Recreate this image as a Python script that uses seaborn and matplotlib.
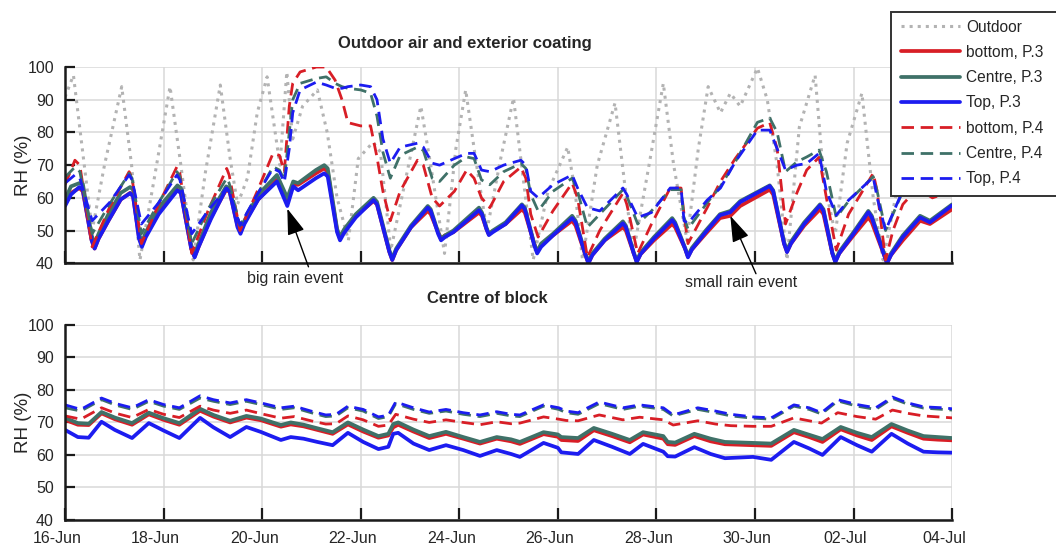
import numpy as np
import pandas as pd
import seaborn as sns
import matplotlib.pyplot as plt
import matplotlib.dates as mdates
import matplotlib.transforms as mtransforms
from matplotlib.patches import Rectangle

# Donnees (temps en jours depuis le 16-Jun, HR en %)
T0 = pd.Timestamp('2015-06-16')

# --- Panneau haut : air exterieur et enduit exterieur ---
out_t = [0.00, 0.17, 0.35, 0.55, 0.80, 1.15, 1.35, 1.52, 1.80, 2.13, 2.35, 2.60, 2.85, 3.15,
         3.35, 3.50, 3.70, 3.90, 4.10, 4.36, 4.50, 4.62, 4.82, 5.12, 5.32, 5.52, 5.75, 5.95,
         6.25, 6.40, 6.61, 6.86, 7.22, 7.42, 7.70, 7.93, 8.13, 8.33, 8.56, 8.84, 9.10, 9.28,
         9.50, 9.80, 10.20, 10.35, 10.50, 10.80, 11.16, 11.35, 11.53, 11.85, 12.14, 12.35,
         12.62, 12.85, 13.05, 13.30, 13.50, 13.70, 14.05, 14.25, 14.45, 14.65, 14.90, 15.22,
         15.40, 15.63, 15.87, 16.17, 16.40, 16.60, 16.85, 17.15, 17.40, 17.60, 18.00]
outdoor = [90.8, 97.5, 75, 50, 70, 94, 70, 41, 65, 94, 70, 41, 68, 94.5,
           72, 58, 66, 86, 97, 70, 98.5, 78, 88, 93, 80, 60, 47, 72,
           77, 74, 44, 62, 88, 70, 43, 75, 93, 72, 50, 72, 90.5, 68,
           41, 62, 75.5, 62, 41, 70, 89, 65, 43, 70, 95, 70,
           47, 75, 94, 86, 92, 88, 99.7, 90, 70, 41, 81.6, 97.5,
           65, 49, 76.7, 92, 60, 41, 60, 88, 72, 62, 62]

top_p3_t = [0.00, 0.12, 0.29, 0.36, 0.60, 0.88, 1.13, 1.32, 1.38, 1.56, 1.90, 2.28, 2.35, 2.63,
            2.96, 3.27, 3.34, 3.56, 3.92, 4.30, 4.51, 4.63, 4.73, 5.09, 5.26, 5.33, 5.58, 5.90,
            6.26, 6.33, 6.64, 7.02, 7.36, 7.42, 7.63, 7.88, 8.40, 8.46, 8.60, 8.94, 9.27, 9.33,
            9.58, 9.90, 10.29, 10.36, 10.62, 10.95, 11.32, 11.38, 11.60, 11.95, 12.32, 12.38,
            12.64, 13.00, 13.29, 13.50, 13.70, 14.30, 14.37, 14.65, 15.00, 15.32, 15.39, 15.63,
            16.00, 16.30, 16.37, 16.68, 17.00, 17.35, 17.55, 18.00]
top_bottom_p3 = [58.0, 61.5, 63.0, 62.0, 44.5, 53.0, 59.5, 61.5, 60.5, 45.5, 55.5, 62.5, 61.5, 42.0,
                 54.0, 62.5, 61.8, 49.5, 59.5, 65.5, 59.0, 64.0, 64.0, 67.5, 69.0, 68.0, 47.5, 54.5,
                 59.0, 58.0, 41.0, 51.0, 56.0, 55.0, 47.5, 49.5, 55.5, 54.5, 48.8, 52.0, 56.5, 55.5,
                 43.5, 48.5, 53.0, 51.5, 40.0, 47.0, 51.0, 50.0, 40.5, 47.0, 52.0, 51.0,
                 42.0, 49.0, 53.8, 54.5, 57.5, 62.5, 61.0, 43.5, 51.5, 56.5, 55.0, 40.5,
                 48.5, 54.0, 52.5, 40.0, 47.0, 53.0, 52.0, 56.5]
top_centre_p3 = [59.5, 63.5, 64.5, 64.3, 46.0, 55.0, 61.5, 63.3, 62.5, 46.5, 57.0, 63.8, 63.0, 43.0,
                 55.5, 63.5, 62.8, 50.0, 61.0, 67.0, 60.0, 65.0, 64.5, 68.5, 70.0, 69.0, 48.0, 55.0,
                 60.0, 58.8, 41.5, 51.5, 57.5, 56.5, 47.5, 50.0, 57.0, 55.5, 49.0, 52.5, 58.0, 57.0,
                 43.5, 49.0, 54.5, 53.0, 40.5, 47.5, 52.8, 51.5, 40.8, 48.0, 53.8, 52.5,
                 42.3, 50.0, 55.0, 56.0, 59.0, 63.8, 62.3, 44.0, 52.5, 58.0, 56.5, 40.8,
                 49.5, 56.0, 54.5, 40.5, 48.5, 54.5, 53.0, 58.0]
top_top_p3 = [57.5, 61.0, 63.3, 62.5, 44.5, 53.0, 59.5, 61.4, 60.5, 45.0, 55.0, 62.3, 61.5, 41.8,
              53.5, 62.8, 62.0, 49.0, 59.5, 65.0, 57.5, 63.5, 62.3, 66.0, 67.5, 66.5, 47.0, 54.0,
              59.3, 58.0, 41.0, 51.0, 57.0, 56.0, 47.0, 49.5, 56.2, 55.0, 48.6, 52.0, 57.7, 56.5,
              43.0, 48.5, 53.8, 52.5, 40.0, 47.0, 52.2, 51.0, 40.3, 47.5, 53.2, 52.0,
              41.8, 49.5, 54.7, 55.6, 58.7, 63.6, 62.0, 43.4, 52.0, 57.7, 56.0, 40.3,
              49.0, 55.6, 54.0, 40.0, 48.0, 54.0, 52.5, 57.7]

# points autour des creux (arrondi des minima), avant puis apres chaque creux
creux_t = [0.54, 1.50, 2.56, 3.50, 5.52, 6.58, 7.57, 8.55, 9.52, 10.56, 11.54, 12.58, 14.59,
           15.57, 16.62,
           0.68, 1.64, 2.71, 3.64, 5.66, 6.72, 7.71, 8.68, 9.66, 10.70, 11.68, 12.72, 14.73,
           15.71, 16.76]
creux_bottom_p3 = [47.0, 48.0, 44.5, 51.5, 50.0, 43.5, 49.5, 50.5, 46.0, 42.5, 43.0, 44.5, 46.0,
                   43.0, 42.5,
                   47.5, 48.5, 45.0, 52.5, 49.8, 44.0, 48.5, 49.8, 45.5, 42.5, 42.8, 44.2, 46.0,
                   43.0, 42.5]
creux_centre_p3 = [48.5, 49.0, 45.5, 52.5, 50.5, 44.0, 49.5, 51.0, 46.0, 43.0, 43.3, 44.8, 46.5,
                   43.3, 43.0,
                   49.0, 49.5, 46.0, 53.0, 50.3, 44.5, 48.5, 50.0, 46.0, 43.0, 43.3, 44.7, 46.6,
                   43.5, 43.0]
creux_top_p3 = [47.0, 47.5, 44.5, 51.0, 49.5, 43.5, 49.0, 50.5, 45.5, 42.5, 43.0, 44.5, 46.0,
                43.0, 42.5,
                47.5, 48.0, 45.0, 52.0, 49.2, 44.0, 48.0, 49.5, 45.0, 42.5, 42.8, 44.2, 46.0,
                43.0, 42.5]

top_p4_t = [0.00, 0.20, 0.30, 0.55, 0.90, 1.30, 1.36, 1.55, 1.90, 2.27, 2.33, 2.57, 2.90, 3.28,
            3.33, 3.55, 3.90, 4.22, 4.35, 4.45, 4.55, 4.62, 4.77, 5.10, 5.30, 5.48, 5.62, 5.74,
            6.00, 6.20, 6.33, 6.45, 6.60, 6.80, 7.15, 7.27, 7.45, 7.60, 7.90, 8.15, 8.30, 8.45,
            8.62, 8.90, 9.25, 9.35, 9.45, 9.60, 9.90, 10.29, 10.40, 10.60, 10.85, 11.32, 11.40,
            11.62, 11.90, 12.28, 12.50, 12.56, 12.64, 13.03, 13.30, 13.60, 14.05, 14.30, 14.45,
            14.62, 14.85, 15.05, 15.30, 15.45, 15.65, 15.90, 16.40, 16.48, 16.65, 16.80, 17.00,
            17.30, 17.60, 18.00]
top_bottom_p4 = [64.0, 71.5, 70.0, 45.0, 57.0, 68.0, 66.0, 46.0, 58.0, 69.5, 67.5, 43.0, 56.0, 69.0,
                 67.0, 50.0, 62.0, 73.6, 73.0, 68.0, 88.0, 95.0, 98.5, 100.0, 100.0, 96.0, 90.0, 83.0,
                 82.0, 82.0, 72.4, 62.0, 53.0, 62.0, 71.5, 70.0, 60.0, 57.5, 62.0, 68.5, 66.0, 60.0,
                 57.0, 65.0, 69.4, 66.0, 55.0, 48.0, 56.0, 64.5, 60.0, 41.8, 50.0, 61.4, 58.0,
                 43.0, 52.0, 63.0, 63.0, 55.0, 46.0, 57.0, 65.0, 72.0, 81.3, 83.0, 75.0,
                 52.0, 61.5, 68.5, 72.4, 60.0, 44.0, 55.0, 67.5, 62.0, 41.0, 50.0, 58.0,
                 63.0, 60.0, 62.0]
top_centre_p4 = [66.3, 69.4, 68.0, 49.0, 58.0, 67.5, 66.0, 49.0, 58.5, 68.0, 66.5, 46.0, 56.5, 66.0,
                 64.5, 51.5, 61.0, 69.5, 68.5, 65.5, 80.0, 90.0, 95.0, 96.5, 97.0, 95.0, 94.0, 93.5,
                 93.0, 92.0, 85.0, 74.0, 66.0, 73.0, 75.5, 74.5, 66.0, 65.0, 70.0, 72.5, 72.0, 65.5,
                 64.0, 68.0, 70.5, 69.0, 61.0, 56.0, 62.0, 66.0, 62.0, 51.0, 55.0, 62.5, 60.5,
                 52.0, 56.0, 62.5, 62.5, 54.0, 50.5, 58.5, 63.5, 71.0, 83.1, 84.4, 80.0,
                 68.0, 71.0, 72.5, 74.6, 68.0, 54.0, 59.0, 66.5, 62.0, 50.0, 55.0, 62.0,
                 66.0, 62.0, 63.0]
top_top_p4 = [64.5, 67.0, 66.0, 53.0, 58.5, 67.0, 65.5, 52.0, 58.5, 67.0, 65.5, 49.0, 56.0, 63.0,
              62.0, 51.6, 61.0, 69.0, 68.0, 64.8, 75.0, 86.0, 93.0, 95.4, 94.5, 93.5, 93.5, 94.0,
              94.5, 94.0, 90.0, 78.0, 70.6, 75.5, 76.7, 75.5, 70.6, 70.0, 72.0, 73.6, 73.6, 68.5,
              68.0, 70.0, 71.5, 70.0, 62.0, 60.0, 64.0, 67.0, 63.0, 57.0, 56.0, 63.0, 61.0,
              54.0, 55.5, 63.0, 63.0, 53.0, 52.2, 59.3, 63.0, 71.0, 80.7, 80.7, 75.0,
              68.5, 70.0, 70.5, 73.6, 62.0, 54.7, 59.3, 66.3, 60.0, 50.0, 55.3, 62.3,
              66.0, 62.0, 63.0]

# --- Panneau bas : centre du bloc ---
bot_p3_t = [0.00, 0.26, 0.48, 0.74, 1.01, 1.36, 1.70, 2.00, 2.32, 2.74, 3.01, 3.35, 3.68, 3.97,
            4.38, 4.58, 4.84, 5.12, 5.43, 5.74, 6.05, 6.36, 6.56, 6.66, 6.76, 7.07, 7.39, 7.73,
            8.08, 8.42, 8.76, 9.05, 9.23, 9.71, 10.00, 10.07, 10.41, 10.73, 11.10, 11.46, 11.73,
            12.14, 12.23, 12.38, 12.77, 13.10, 13.39, 13.96, 14.33, 14.79, 15.10, 15.37, 15.74,
            16.07, 16.37, 16.77, 17.10, 17.42, 17.71, 18.00]
bot_bottom_p3 = [70.8, 69.3, 69.2, 72.8, 71.0, 69.3, 72.5, 70.8, 69.3, 73.6, 71.8, 70.0, 71.5, 70.7,
                 68.7, 69.4, 68.8, 67.7, 66.5, 69.4, 67.2, 65.3, 66.0, 68.5, 69.3, 67.2, 65.2, 66.5,
                 65.0, 63.5, 65.0, 64.2, 63.4, 66.4, 65.6, 64.6, 64.3, 67.6, 65.8, 63.9, 66.3,
                 65.0, 63.3, 63.1, 65.8, 64.2, 63.3, 63.0, 62.8, 67.0, 65.5, 64.0, 67.9,
                 66.0, 64.6, 68.8, 66.8, 65.0, 64.7, 64.5]
bot_centre_p3 = [71.4, 69.8, 69.6, 73.2, 71.5, 69.8, 73.0, 71.3, 69.8, 74.2, 72.3, 70.5, 72.0, 71.2,
                 69.2, 70.0, 69.3, 68.2, 67.0, 70.0, 67.8, 65.8, 66.5, 69.5, 70.0, 67.8, 65.8, 67.1,
                 65.5, 64.0, 65.5, 64.8, 64.0, 67.0, 66.3, 65.5, 65.2, 68.3, 66.5, 64.6, 67.0,
                 65.8, 64.0, 63.8, 66.5, 65.0, 64.0, 63.7, 63.5, 67.7, 66.2, 64.9, 68.6,
                 66.8, 65.5, 69.5, 67.5, 65.8, 65.5, 65.2]
bot_top_p3 = [67.7, 65.5, 65.3, 70.2, 67.7, 65.2, 69.8, 67.5, 65.2, 71.4, 68.5, 65.5, 68.6, 67.1,
              64.6, 65.5, 65.0, 64.0, 63.0, 66.8, 64.0, 61.8, 62.5, 66.5, 66.8, 63.5, 61.5, 63.0,
              61.5, 59.7, 61.5, 60.3, 59.4, 63.7, 62.2, 60.8, 60.3, 64.6, 62.5, 60.3, 63.4,
              61.0, 59.6, 59.5, 62.4, 60.3, 59.0, 59.4, 58.5, 64.0, 62.0, 60.0, 65.5,
              63.0, 61.0, 66.5, 63.5, 61.0, 60.8, 60.7]

bot_p4_t = [0.00, 0.32, 0.74, 1.03, 1.36, 1.70, 2.00, 2.32, 2.74, 3.01, 3.35, 3.68, 4.03, 4.38,
            4.65, 4.99, 5.29, 5.50, 5.74, 6.05, 6.36, 6.56, 6.71, 7.07, 7.39, 7.73, 8.08, 8.42,
            8.76, 9.05, 9.23, 9.71, 10.02, 10.17, 10.41, 10.84, 11.32, 11.66, 12.14, 12.34, 12.84,
            13.20, 13.51, 13.96, 14.33, 14.79, 15.10, 15.35, 15.68, 16.07, 16.45, 16.79, 17.10,
            17.42, 17.82, 18.00]
bot_bottom_p4 = [72.0, 71.0, 74.5, 72.8, 71.5, 74.0, 72.5, 71.5, 75.0, 73.8, 72.8, 73.8, 72.5, 71.3,
                 71.8, 70.5, 69.5, 69.6, 72.0, 70.8, 68.8, 69.2, 72.5, 71.0, 70.0, 70.8, 70.0, 69.3,
                 70.2, 69.6, 69.8, 71.7, 71.0, 70.6, 70.5, 72.3, 70.8, 71.6, 70.8, 69.2, 70.5,
                 69.5, 69.0, 68.8, 68.8, 71.4, 70.5, 69.8, 73.0, 71.8, 71.0, 73.8, 72.8,
                 72.0, 71.6, 71.4]
bot_centre_p4 = [74.5, 73.5, 77.0, 75.3, 74.0, 76.5, 75.0, 74.0, 77.5, 76.5, 75.5, 76.5, 75.3, 74.0,
                 74.5, 73.0, 71.8, 72.0, 74.5, 73.5, 71.2, 71.8, 75.8, 74.0, 72.8, 73.5, 72.5, 71.8,
                 72.8, 72.0, 71.8, 75.0, 74.0, 73.0, 72.5, 75.8, 74.0, 75.0, 74.0, 72.0, 74.0,
                 73.0, 72.0, 71.3, 71.0, 75.0, 74.0, 72.6, 76.6, 75.0, 74.0, 77.4, 75.6,
                 74.4, 74.0, 73.8]
bot_top_p4 = [75.4, 74.0, 77.5, 75.8, 74.5, 77.0, 75.5, 74.5, 78.2, 77.0, 76.0, 77.0, 75.8, 74.5,
              75.0, 73.5, 72.3, 72.5, 75.0, 74.0, 71.7, 72.2, 76.3, 74.5, 73.2, 74.0, 73.0, 72.3,
              73.3, 72.5, 72.3, 75.4, 74.5, 73.5, 73.0, 76.3, 74.5, 75.4, 74.5, 72.3, 74.5,
              73.5, 72.5, 71.7, 71.4, 75.4, 74.5, 73.0, 77.0, 75.5, 74.5, 77.8, 76.0,
              74.8, 74.5, 74.2]

labels = ['Outdoor', 'bottom, P.3', 'Centre, P.3', 'Top, P.3',
          'bottom, P.4', 'Centre, P.4', 'Top, P.4']

ROUGE = '#d81e26'
VERT = '#3f7168'
BLEU = '#1c1cf0'
GRIS = '#b3b3b3'
TIRETS = (0, (4.5, 2.4))
LW_PLEIN = 2.7
LW_TIRET = 2.0


def en_dates(jours):
    return T0 + pd.to_timedelta(np.asarray(jours), unit='D')


sns.set_theme(style='white')
plt.rcParams['font.family'] = ['Liberation Sans', 'DejaVu Sans']

fig = plt.figure(figsize=(10.56, 5.45), dpi=100)
ax_haut = fig.add_axes([0.0616, 0.517, 0.84, 0.360])
ax_bas = fig.add_axes([0.0616, 0.0459, 0.84, 0.358])

# Panneau haut
sns.lineplot(x=en_dates(out_t), y=outdoor, ax=ax_haut, color=GRIS, linewidth=2.2,
             linestyle=':', label=labels[0], legend=False)
series_haut = [
    (top_p3_t + creux_t, top_bottom_p3 + creux_bottom_p3, ROUGE, '-', LW_PLEIN, labels[1]),
    (top_p3_t + creux_t, top_centre_p3 + creux_centre_p3, VERT, '-', LW_PLEIN, labels[2]),
    (top_p3_t + creux_t, top_top_p3 + creux_top_p3, BLEU, '-', LW_PLEIN, labels[3]),
    (top_p4_t, top_bottom_p4, ROUGE, TIRETS, LW_TIRET, labels[4]),
    (top_p4_t, top_centre_p4, VERT, TIRETS, LW_TIRET, labels[5]),
    (top_p4_t, top_top_p4, BLEU, TIRETS, LW_TIRET, labels[6]),
]
for t, v, c, ls, lw, lab in series_haut:
    sns.lineplot(x=en_dates(t), y=v, ax=ax_haut, color=c, linewidth=lw,
                 linestyle=ls, label=lab, legend=False, solid_joinstyle='round')

# Panneau bas
series_bas = [
    (bot_p3_t, bot_bottom_p3, ROUGE, '-', LW_PLEIN),
    (bot_p3_t, bot_centre_p3, VERT, '-', LW_PLEIN),
    (bot_p3_t, bot_top_p3, BLEU, '-', LW_PLEIN),
    (bot_p4_t, bot_bottom_p4, ROUGE, TIRETS, LW_TIRET),
    (bot_p4_t, bot_centre_p4, VERT, TIRETS, LW_TIRET),
    (bot_p4_t, bot_top_p4, BLEU, TIRETS, LW_TIRET),
]
for t, v, c, ls, lw in series_bas:
    sns.lineplot(x=en_dates(t), y=v, ax=ax_bas, color=c, linewidth=lw,
                 linestyle=ls, legend=False, solid_joinstyle='round')

ticks = [T0 + pd.Timedelta(days=2 * i) for i in range(10)]
for ax in (ax_haut, ax_bas):
    ax.set_xlim(T0, T0 + pd.Timedelta(days=18))
    ax.set_ylim(40, 100)
    ax.set_yticks(range(40, 101, 10))
    ax.set_xticks(ticks)
    ax.xaxis.set_major_formatter(mdates.DateFormatter('%d-%b'))
    ax.grid(True, color='#d9d9d9', linewidth=1.1)
    ax.set_axisbelow(True)
    for cote in ('top', 'right'):
        ax.spines[cote].set_visible(False)
    for cote in ('left', 'bottom'):
        ax.spines[cote].set_color('#1a1a1a')
        ax.spines[cote].set_linewidth(1.8)
    ax.tick_params(axis='x', direction='in', length=9, width=1.6, color='#1a1a1a',
                   labelsize=11.5, pad=8, bottom=True)
    ax.tick_params(axis='y', direction='in', length=7, width=1.6, color='#1a1a1a',
                   labelsize=11.5, pad=8, left=True)
    ax.set_xlabel('')
    ax.set_ylabel('RH (%)', fontsize=13.5)
    ax.yaxis.set_label_coords(-0.037, 0.5)

ax_haut.tick_params(axis='x', labelbottom=False)

# les dates sont un peu decalees a gauche de leur graduation
decalage = mtransforms.ScaledTranslation(-8 / 100, 0, fig.dpi_scale_trans)
for lab in ax_bas.get_xticklabels():
    lab.set_transform(lab.get_transform() + decalage)

ax_haut.set_title('Outdoor air and exterior coating', fontsize=12, fontweight='bold',
                  x=0.451, y=1.0, pad=14)
ax_bas.set_title('Centre of block', fontsize=12, fontweight='bold', x=0.476, y=1.0, pad=16)

# Annotations des evenements de pluie
fleche = dict(arrowstyle='-|>,head_length=0.9,head_width=0.3', color='black',
              lw=1.0, mutation_scale=18, shrinkA=0, shrinkB=0)


def jour(d):
    return mdates.date2num(T0 + pd.Timedelta(days=d))


ax_haut.annotate('', xy=(jour(4.51), 56.7), xytext=(jour(4.94), 38.9),
                 arrowprops=fleche, annotation_clip=False)
ax_haut.text(jour(4.67), 35.3, 'big rain event', ha='center', va='center', fontsize=11.5,
             clip_on=False)
ax_haut.annotate('', xy=(jour(13.50), 54.5), xytext=(jour(14.02), 36.8),
                 arrowprops=fleche, annotation_clip=False)
ax_haut.text(jour(13.72), 34.2, 'small rain event', ha='center', va='center', fontsize=11.5,
             clip_on=False)

# Legende : cadre dessine a part, il deborde a droite de la figure
cadre = Rectangle((891 / 1056, 1 - 196 / 545), 180 / 1056, 184 / 545,
                  transform=fig.transFigure, facecolor='white', edgecolor='#333333',
                  linewidth=1.4, zorder=4)
fig.add_artist(cadre)
handles, labs = ax_haut.get_legend_handles_labels()
leg = fig.legend(handles, labs, loc='upper left', bbox_to_anchor=(891 / 1056, 1 - 10 / 545),
                 borderaxespad=0, fontsize=11.2, frameon=False,
                 handlelength=3.8, handletextpad=0.4, labelspacing=0.66, borderpad=0.62)
leg.set_zorder(5)

plt.savefig('out.png', dpi=100)
